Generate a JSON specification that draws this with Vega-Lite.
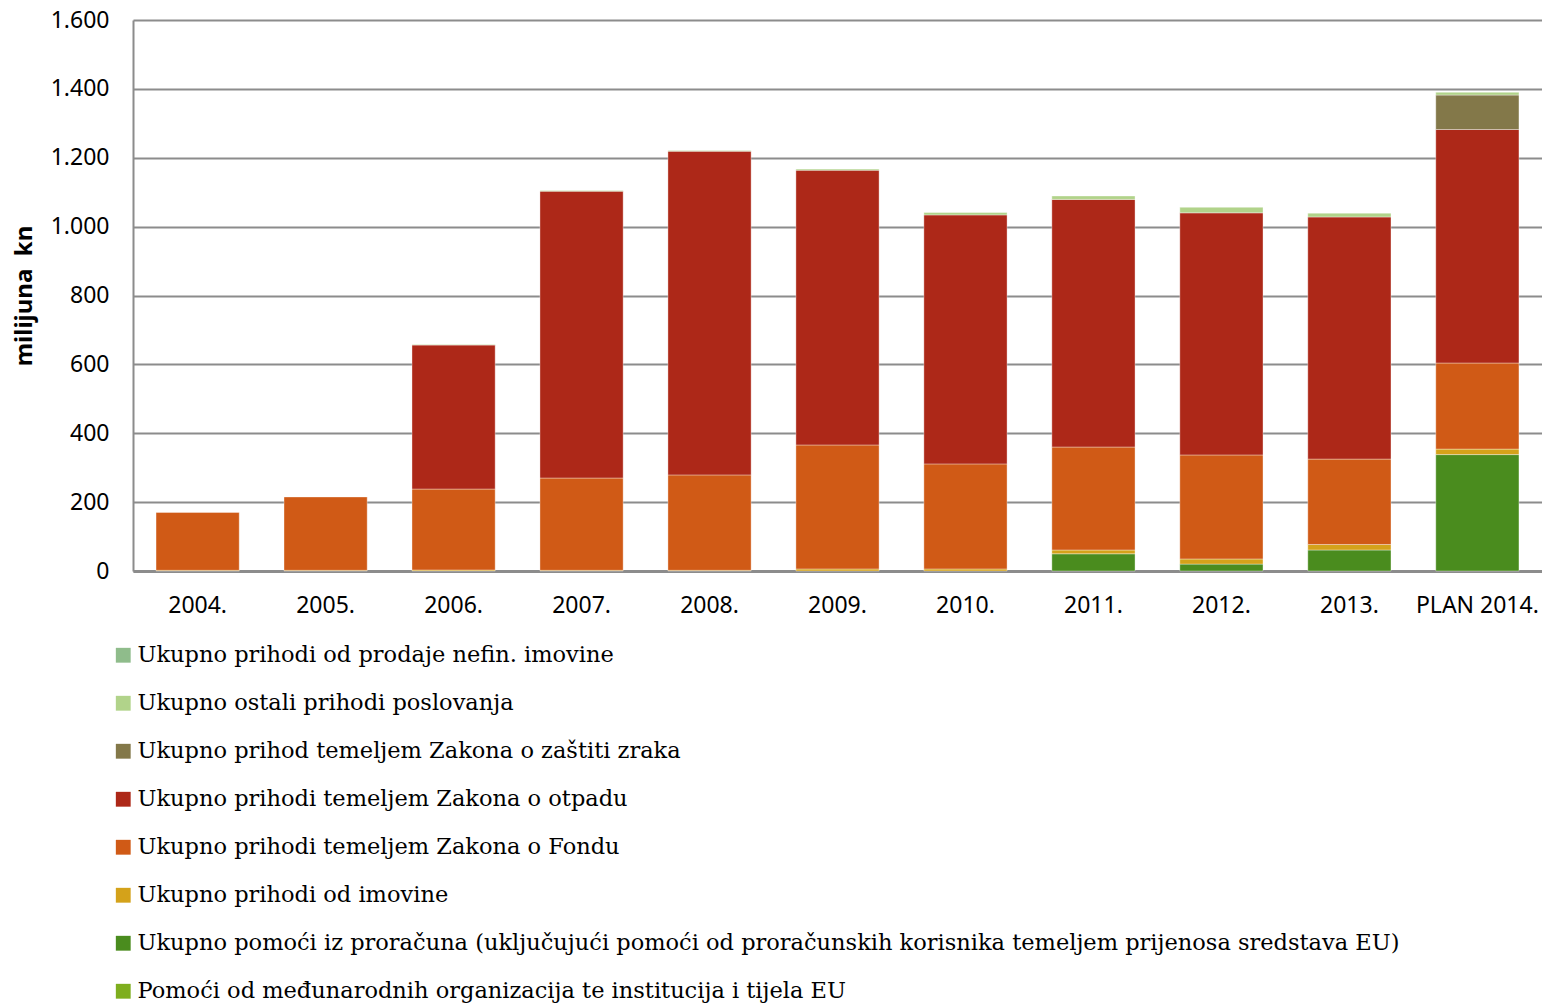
{
  "$schema": "https://vega.github.io/schema/vega-lite/v6.json",
  "autosize": "none",
  "width": 1409,
  "height": 551,
  "padding": {"left": 133, "top": 20, "right": 0, "bottom": 435},
  "background": "white",
  "config": {"view": {"stroke": null}},
  "datasets": {
    "series": [
      {"s": "A", "name": "Ukupno prihodi od prodaje nefin. imovine", "rank": 8},
      {"s": "B", "name": "Ukupno ostali prihodi poslovanja", "rank": 7},
      {"s": "C", "name": "Ukupno prihod temeljem Zakona o zaštiti zraka", "rank": 6},
      {"s": "D", "name": "Ukupno prihodi temeljem Zakona o otpadu", "rank": 5},
      {"s": "E", "name": "Ukupno prihodi temeljem Zakona o Fondu", "rank": 4},
      {"s": "F", "name": "Ukupno prihodi od imovine", "rank": 3},
      {"s": "G", "name": "Ukupno pomoći iz proračuna (uključujući pomoći od proračunskih korisnika temeljem  prijenosa sredstava EU)", "rank": 2},
      {"s": "H", "name": "Pomoći od međunarodnih organizacija te institucija i tijela EU", "rank": 1}
    ],
    "vals": [
      {"year": "2004.", "s": "F", "v": 2},
      {"year": "2004.", "s": "E", "v": 168},
      {"year": "2005.", "s": "F", "v": 2},
      {"year": "2005.", "s": "E", "v": 213},
      {"year": "2006.", "s": "F", "v": 3},
      {"year": "2006.", "s": "E", "v": 235},
      {"year": "2006.", "s": "D", "v": 418},
      {"year": "2006.", "s": "B", "v": 2},
      {"year": "2007.", "s": "F", "v": 2},
      {"year": "2007.", "s": "E", "v": 268},
      {"year": "2007.", "s": "D", "v": 833},
      {"year": "2007.", "s": "B", "v": 2},
      {"year": "2008.", "s": "F", "v": 2},
      {"year": "2008.", "s": "E", "v": 277},
      {"year": "2008.", "s": "D", "v": 940},
      {"year": "2008.", "s": "B", "v": 2},
      {"year": "2009.", "s": "F", "v": 6},
      {"year": "2009.", "s": "E", "v": 360},
      {"year": "2009.", "s": "D", "v": 798},
      {"year": "2009.", "s": "B", "v": 3},
      {"year": "2010.", "s": "F", "v": 6},
      {"year": "2010.", "s": "E", "v": 305},
      {"year": "2010.", "s": "D", "v": 723},
      {"year": "2010.", "s": "B", "v": 7},
      {"year": "2011.", "s": "G", "v": 50},
      {"year": "2011.", "s": "F", "v": 11},
      {"year": "2011.", "s": "E", "v": 299},
      {"year": "2011.", "s": "D", "v": 719},
      {"year": "2011.", "s": "B", "v": 10},
      {"year": "2012.", "s": "G", "v": 20},
      {"year": "2012.", "s": "F", "v": 15},
      {"year": "2012.", "s": "E", "v": 302},
      {"year": "2012.", "s": "D", "v": 703},
      {"year": "2012.", "s": "B", "v": 16},
      {"year": "2013.", "s": "G", "v": 61},
      {"year": "2013.", "s": "F", "v": 16},
      {"year": "2013.", "s": "E", "v": 248},
      {"year": "2013.", "s": "D", "v": 703},
      {"year": "2013.", "s": "B", "v": 11},
      {"year": "PLAN 2014.", "s": "G", "v": 338},
      {"year": "PLAN 2014.", "s": "F", "v": 16},
      {"year": "PLAN 2014.", "s": "E", "v": 250},
      {"year": "PLAN 2014.", "s": "D", "v": 678},
      {"year": "PLAN 2014.", "s": "C", "v": 100},
      {"year": "PLAN 2014.", "s": "B", "v": 8}
    ]
  },
  "data": {"name": "vals"},
  "transform": [
    {"lookup": "s", "from": {"data": {"name": "series"}, "key": "s", "fields": ["name", "rank"]}}
  ],
  "mark": {"type": "bar", "stroke": "white", "strokeWidth": 0.6, "strokeOpacity": 0.6},
  "encoding": {
    "x": {
      "field": "year", "type": "nominal",
      "sort": ["2004.", "2005.", "2006.", "2007.", "2008.", "2009.", "2010.", "2011.", "2012.", "2013.", "PLAN 2014."],
      "scale": {"paddingInner": 0.35, "paddingOuter": 0.18},
      "axis": {
        "title": null, "labelAngle": 0, "ticks": false,
        "labelFont": "Noto Sans", "labelFontSize": 23, "labelColor": "#000",
        "labelPadding": 23, "domainColor": "#8c8c8c", "domainWidth": 3
      }
    },
    "y": {
      "field": "v", "type": "quantitative", "aggregate": "sum", "stack": "zero",
      "scale": {"domain": [0, 1600]},
      "axis": {
        "title": "milijuna\u00a0\u00a0kn", "titleFont": "Noto Sans", "titleFontSize": 24, "titleFontWeight": "bold",
        "titleColor": "#000", "titlePadding": 14,
        "values": [0, 200, 400, 600, 800, 1000, 1200, 1400, 1600],
        "labelExpr": "replace(format(datum.value, ','), ',', '.')",
        "labelFont": "Noto Sans", "labelFontSize": 23, "labelColor": "#000",
        "ticks": false, "labelPadding": 24,
        "grid": true, "gridColor": "#8c8c8c", "gridWidth": 2,
        "domainColor": "#8c8c8c", "domainWidth": 2
      }
    },
    "color": {
      "field": "name", "type": "nominal",
      "scale": {
        "domain": [
          "Ukupno prihodi od prodaje nefin. imovine",
          "Ukupno ostali prihodi poslovanja",
          "Ukupno prihod temeljem Zakona o zaštiti zraka",
          "Ukupno prihodi temeljem Zakona o otpadu",
          "Ukupno prihodi temeljem Zakona o Fondu",
          "Ukupno prihodi od imovine",
          "Ukupno pomoći iz proračuna (uključujući pomoći od proračunskih korisnika temeljem  prijenosa sredstava EU)",
          "Pomoći od međunarodnih organizacija te institucija i tijela EU"
        ],
        "range": ["#8fbc8b", "#b1d38a", "#837849", "#ad2818", "#d05a16", "#d4a21a", "#4a8c1e", "#7eae1e"]
      },
      "legend": {
        "title": null, "orient": "none", "legendX": -21, "legendY": 624,
        "direction": "vertical",
        "symbolType": "square", "symbolSize": 220, "symbolStrokeWidth": 0,
        "labelFont": "DejaVu Serif", "labelFontSize": 22.5, "labelColor": "#000",
        "labelLimit": 1500, "rowPadding": 25, "labelOffset": 3
      }
    },
    "order": {"field": "rank", "type": "quantitative", "sort": "ascending"}
  }
}
